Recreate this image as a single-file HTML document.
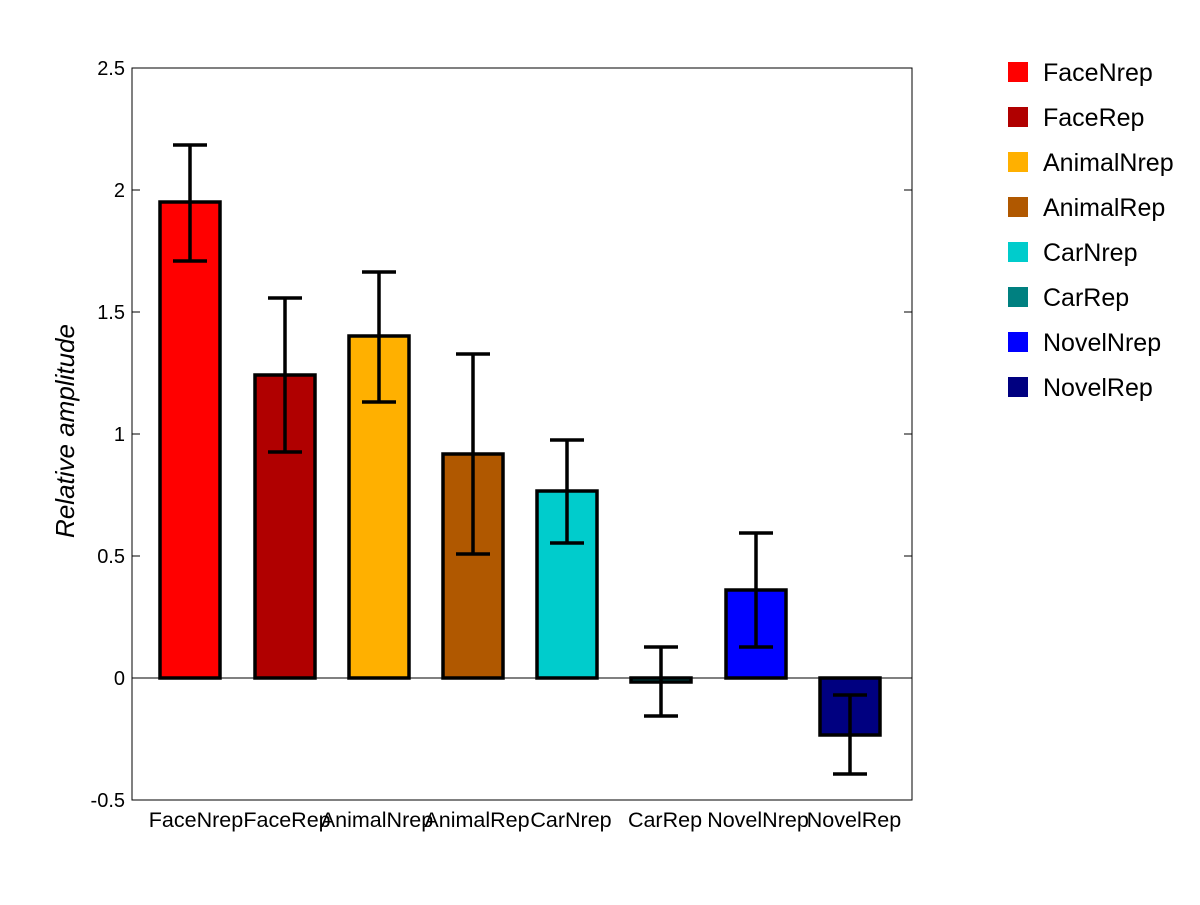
<!DOCTYPE html>
<html><head><style>body{margin:0;background:#fff}</style></head><body>
<svg width="1200" height="900" xmlns="http://www.w3.org/2000/svg" font-family="Liberation Sans, Arial, sans-serif">
<rect width="1200" height="900" fill="#fff"/>
<rect x="132" y="68" width="780" height="732" fill="#fff" stroke="#000" stroke-width="1"/>
<g stroke="#000" stroke-width="1">
<line x1="132" y1="68" x2="140" y2="68"/><line x1="912" y1="68" x2="904" y2="68"/>
<line x1="132" y1="190" x2="140" y2="190"/><line x1="912" y1="190" x2="904" y2="190"/>
<line x1="132" y1="312" x2="140" y2="312"/><line x1="912" y1="312" x2="904" y2="312"/>
<line x1="132" y1="434" x2="140" y2="434"/><line x1="912" y1="434" x2="904" y2="434"/>
<line x1="132" y1="556" x2="140" y2="556"/><line x1="912" y1="556" x2="904" y2="556"/>
<line x1="132" y1="678" x2="140" y2="678"/><line x1="912" y1="678" x2="904" y2="678"/>
</g>
<g font-size="20" text-anchor="end">
<text x="125" y="75">2.5</text><text x="125" y="197">2</text><text x="125" y="319">1.5</text>
<text x="125" y="441">1</text><text x="125" y="563">0.5</text><text x="125" y="685">0</text><text x="125" y="807">-0.5</text>
</g>
<text transform="translate(74,431) rotate(-90)" font-size="26" font-style="italic" text-anchor="middle">Relative amplitude</text>
<g stroke="#000" stroke-width="3.5">
<rect x="160" y="202" width="60" height="476" fill="#ff0000"/>
<rect x="255" y="375" width="60" height="303" fill="#b00000"/>
<rect x="349" y="336" width="60" height="342" fill="#ffb000"/>
<rect x="443" y="454" width="60" height="224" fill="#b05800"/>
<rect x="537" y="491" width="60" height="187" fill="#00cccc"/>
<rect x="631" y="678" width="60" height="4" fill="#008080"/>
<rect x="726" y="590" width="60" height="88" fill="#0000ff"/>
<rect x="820" y="678" width="60" height="57" fill="#000080"/>
</g>
<line x1="132" y1="678" x2="912" y2="678" stroke="#000" stroke-width="1"/>
<g stroke="#000" stroke-width="3.5">
<path d="M190 145V261M173 145H207M173 261H207"/>
<path d="M285 298V452M268 298H302M268 452H302"/>
<path d="M379 272V402M362 272H396M362 402H396"/>
<path d="M473 354V554M456 354H490M456 554H490"/>
<path d="M567 440V543M550 440H584M550 543H584"/>
<path d="M661 647V716M644 647H678M644 716H678"/>
<path d="M756 533V647M739 533H773M739 647H773"/>
<path d="M850 695V774M833 695H867M833 774H867"/>
</g>
<g font-size="21.5" text-anchor="middle">
<text x="196" y="827">FaceNrep</text><text x="287" y="827">FaceRep</text><text x="377" y="827">AnimalNrep</text>
<text x="477" y="827">AnimalRep</text><text x="571" y="827">CarNrep</text><text x="665" y="827">CarRep</text>
<text x="758" y="827">NovelNrep</text><text x="854" y="827">NovelRep</text>
</g>
<g font-size="25">
<rect x="1008" y="62" width="20" height="20" fill="#ff0000"/><text x="1043" y="81">FaceNrep</text>
<rect x="1008" y="107" width="20" height="20" fill="#b00000"/><text x="1043" y="126">FaceRep</text>
<rect x="1008" y="152" width="20" height="20" fill="#ffb000"/><text x="1043" y="171">AnimalNrep</text>
<rect x="1008" y="197" width="20" height="20" fill="#b05800"/><text x="1043" y="216">AnimalRep</text>
<rect x="1008" y="242" width="20" height="20" fill="#00cccc"/><text x="1043" y="261">CarNrep</text>
<rect x="1008" y="287" width="20" height="20" fill="#008080"/><text x="1043" y="306">CarRep</text>
<rect x="1008" y="332" width="20" height="20" fill="#0000ff"/><text x="1043" y="351">NovelNrep</text>
<rect x="1008" y="377" width="20" height="20" fill="#000080"/><text x="1043" y="396">NovelRep</text>
</g>
</svg>
</body></html>
